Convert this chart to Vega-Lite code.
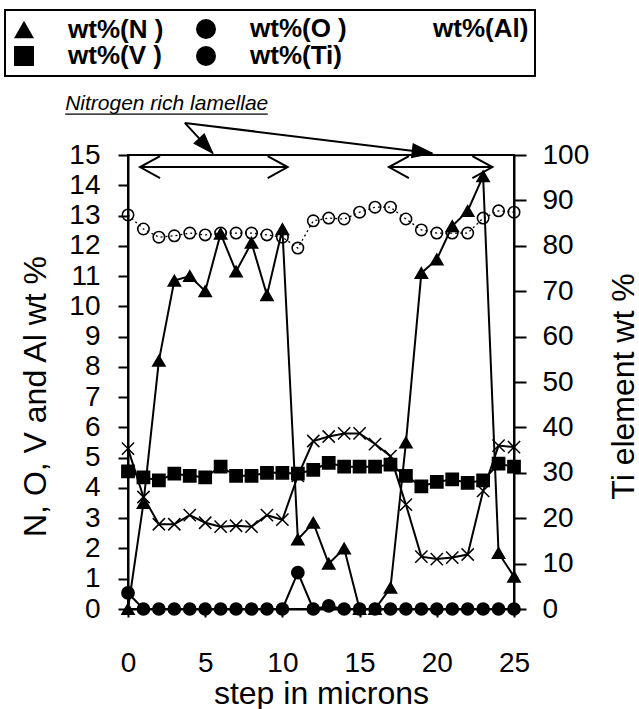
{
  "$schema": "https://vega.github.io/schema/vega-lite/v6.json",
  "width": 386,
  "height": 454,
  "autosize": {"type": "none"},
  "padding": {"left": 128, "top": 155, "right": 125, "bottom": 100},
  "background": "white",
  "config": {
    "view": {"stroke": "black", "strokeWidth": 2},
    "font": "Liberation Sans",
    "axis": {
      "domainColor": "black", "domainWidth": 2, "tickColor": "black", "tickWidth": 2,
      "labelColor": "black", "titleColor": "black", "labelFont": "Liberation Sans", "titleFont": "Liberation Sans",
      "labelFontSize": 28, "titleFontSize": 32, "titleFontWeight": "normal", "grid": false, "labelFlush": false
    },
    "legend": {"strokeWidth": 2}
  },
  "datasets": {
    "wt": [
      {"step": 0, "series": "wt%(N )", "value": 0}, {"step": 1, "series": "wt%(N )", "value": 3.5}, {"step": 2, "series": "wt%(N )", "value": 8.2}, {"step": 3, "series": "wt%(N )", "value": 10.85}, {"step": 4, "series": "wt%(N )", "value": 11.0}, {"step": 5, "series": "wt%(N )", "value": 10.5}, {"step": 6, "series": "wt%(N )", "value": 12.4}, {"step": 7, "series": "wt%(N )", "value": 11.15}, {"step": 8, "series": "wt%(N )", "value": 12.1}, {"step": 9, "series": "wt%(N )", "value": 10.37}, {"step": 10, "series": "wt%(N )", "value": 12.55}, {"step": 11, "series": "wt%(N )", "value": 2.3}, {"step": 12, "series": "wt%(N )", "value": 2.85}, {"step": 13, "series": "wt%(N )", "value": 1.5}, {"step": 14, "series": "wt%(N )", "value": 2.0}, {"step": 15, "series": "wt%(N )", "value": 0}, {"step": 16, "series": "wt%(N )", "value": 0}, {"step": 17, "series": "wt%(N )", "value": 0.7}, {"step": 18, "series": "wt%(N )", "value": 5.5}, {"step": 19, "series": "wt%(N )", "value": 11.1}, {"step": 20, "series": "wt%(N )", "value": 11.55}, {"step": 21, "series": "wt%(N )", "value": 12.65}, {"step": 22, "series": "wt%(N )", "value": 13.15}, {"step": 23, "series": "wt%(N )", "value": 14.3}, {"step": 24, "series": "wt%(N )", "value": 1.85}, {"step": 25, "series": "wt%(N )", "value": 1.07},
      {"step": 0, "series": "wt%(O )", "value": 0.53}, {"step": 1, "series": "wt%(O )", "value": 0}, {"step": 2, "series": "wt%(O )", "value": 0}, {"step": 3, "series": "wt%(O )", "value": 0}, {"step": 4, "series": "wt%(O )", "value": 0}, {"step": 5, "series": "wt%(O )", "value": 0}, {"step": 6, "series": "wt%(O )", "value": 0}, {"step": 7, "series": "wt%(O )", "value": 0}, {"step": 8, "series": "wt%(O )", "value": 0}, {"step": 9, "series": "wt%(O )", "value": 0}, {"step": 10, "series": "wt%(O )", "value": 0}, {"step": 11, "series": "wt%(O )", "value": 1.2}, {"step": 12, "series": "wt%(O )", "value": 0}, {"step": 13, "series": "wt%(O )", "value": 0.1}, {"step": 14, "series": "wt%(O )", "value": 0}, {"step": 15, "series": "wt%(O )", "value": 0}, {"step": 16, "series": "wt%(O )", "value": 0}, {"step": 17, "series": "wt%(O )", "value": 0}, {"step": 18, "series": "wt%(O )", "value": 0}, {"step": 19, "series": "wt%(O )", "value": 0}, {"step": 20, "series": "wt%(O )", "value": 0}, {"step": 21, "series": "wt%(O )", "value": 0}, {"step": 22, "series": "wt%(O )", "value": 0}, {"step": 23, "series": "wt%(O )", "value": 0}, {"step": 24, "series": "wt%(O )", "value": 0}, {"step": 25, "series": "wt%(O )", "value": 0},
      {"step": 0, "series": "wt%(Al)", "value": 5.3}, {"step": 1, "series": "wt%(Al)", "value": 3.7}, {"step": 2, "series": "wt%(Al)", "value": 2.8}, {"step": 3, "series": "wt%(Al)", "value": 2.8}, {"step": 4, "series": "wt%(Al)", "value": 3.1}, {"step": 5, "series": "wt%(Al)", "value": 2.85}, {"step": 6, "series": "wt%(Al)", "value": 2.72}, {"step": 7, "series": "wt%(Al)", "value": 2.75}, {"step": 8, "series": "wt%(Al)", "value": 2.72}, {"step": 9, "series": "wt%(Al)", "value": 3.1}, {"step": 10, "series": "wt%(Al)", "value": 2.95}, {"step": 11, "series": "wt%(Al)", "value": 4.4}, {"step": 12, "series": "wt%(Al)", "value": 5.55}, {"step": 13, "series": "wt%(Al)", "value": 5.7}, {"step": 14, "series": "wt%(Al)", "value": 5.8}, {"step": 15, "series": "wt%(Al)", "value": 5.8}, {"step": 16, "series": "wt%(Al)", "value": 5.45}, {"step": 17, "series": "wt%(Al)", "value": 5.05}, {"step": 18, "series": "wt%(Al)", "value": 3.45}, {"step": 19, "series": "wt%(Al)", "value": 1.73}, {"step": 20, "series": "wt%(Al)", "value": 1.65}, {"step": 21, "series": "wt%(Al)", "value": 1.7}, {"step": 22, "series": "wt%(Al)", "value": 1.8}, {"step": 23, "series": "wt%(Al)", "value": 3.9}, {"step": 24, "series": "wt%(Al)", "value": 5.4}, {"step": 25, "series": "wt%(Al)", "value": 5.35},
      {"step": 0, "series": "wt%(V )", "value": 4.55}, {"step": 1, "series": "wt%(V )", "value": 4.35}, {"step": 2, "series": "wt%(V )", "value": 4.25}, {"step": 3, "series": "wt%(V )", "value": 4.47}, {"step": 4, "series": "wt%(V )", "value": 4.4}, {"step": 5, "series": "wt%(V )", "value": 4.35}, {"step": 6, "series": "wt%(V )", "value": 4.7}, {"step": 7, "series": "wt%(V )", "value": 4.4}, {"step": 8, "series": "wt%(V )", "value": 4.4}, {"step": 9, "series": "wt%(V )", "value": 4.5}, {"step": 10, "series": "wt%(V )", "value": 4.5}, {"step": 11, "series": "wt%(V )", "value": 4.47}, {"step": 12, "series": "wt%(V )", "value": 4.6}, {"step": 13, "series": "wt%(V )", "value": 4.83}, {"step": 14, "series": "wt%(V )", "value": 4.7}, {"step": 15, "series": "wt%(V )", "value": 4.7}, {"step": 16, "series": "wt%(V )", "value": 4.7}, {"step": 17, "series": "wt%(V )", "value": 4.77}, {"step": 18, "series": "wt%(V )", "value": 4.4}, {"step": 19, "series": "wt%(V )", "value": 4.05}, {"step": 20, "series": "wt%(V )", "value": 4.2}, {"step": 21, "series": "wt%(V )", "value": 4.28}, {"step": 22, "series": "wt%(V )", "value": 4.17}, {"step": 23, "series": "wt%(V )", "value": 4.25}, {"step": 24, "series": "wt%(V )", "value": 4.8}, {"step": 25, "series": "wt%(V )", "value": 4.7},
      {"step": 0, "series": "wt%(Ti)", "value": 86.8}, {"step": 1, "series": "wt%(Ti)", "value": 83.7}, {"step": 2, "series": "wt%(Ti)", "value": 81.9}, {"step": 3, "series": "wt%(Ti)", "value": 82.2}, {"step": 4, "series": "wt%(Ti)", "value": 82.8}, {"step": 5, "series": "wt%(Ti)", "value": 82.4}, {"step": 6, "series": "wt%(Ti)", "value": 82.8}, {"step": 7, "series": "wt%(Ti)", "value": 82.8}, {"step": 8, "series": "wt%(Ti)", "value": 82.8}, {"step": 9, "series": "wt%(Ti)", "value": 82.4}, {"step": 10, "series": "wt%(Ti)", "value": 81.9}, {"step": 11, "series": "wt%(Ti)", "value": 79.5}, {"step": 12, "series": "wt%(Ti)", "value": 85.5}, {"step": 13, "series": "wt%(Ti)", "value": 86.1}, {"step": 14, "series": "wt%(Ti)", "value": 85.9}, {"step": 15, "series": "wt%(Ti)", "value": 87.4}, {"step": 16, "series": "wt%(Ti)", "value": 88.5}, {"step": 17, "series": "wt%(Ti)", "value": 88.5}, {"step": 18, "series": "wt%(Ti)", "value": 85.9}, {"step": 19, "series": "wt%(Ti)", "value": 83.5}, {"step": 20, "series": "wt%(Ti)", "value": 82.8}, {"step": 21, "series": "wt%(Ti)", "value": 82.8}, {"step": 22, "series": "wt%(Ti)", "value": 82.8}, {"step": 23, "series": "wt%(Ti)", "value": 86.1}, {"step": 24, "series": "wt%(Ti)", "value": 87.7}, {"step": 25, "series": "wt%(Ti)", "value": 87.4}
    ],
    "segs": [
      {"step": 3.68, "y": 16.06, "step2": 5.49, "y2": 15.06},
      {"step": 3.68, "y": 16.06, "step2": 19.7, "y2": 15.06},
      {"step": 0.78, "y": 14.6, "step2": 10.34, "y2": 14.6},
      {"step": 16.9, "y": 14.6, "step2": 23.6, "y2": 14.6}
    ],
    "heads": [
      {"step": 5.49, "y": 15.06, "dir": 137},
      {"step": 19.7, "y": 15.06, "dir": 97}
    ],
    "chevrons": [
      {"step": 0.78, "y": 14.6, "dir": 0},
      {"step": 10.34, "y": 14.6, "dir": 180},
      {"step": 16.9, "y": 14.6, "dir": 0},
      {"step": 23.6, "y": 14.6, "dir": 180}
    ],
    "note": [
      {"step": -4.07, "y": 16.49, "step2": 9.05, "yu": 16.35, "text": "Nitrogen rich lamellae"}
    ]
  },
  "encoding": {
    "x": {"field": "step", "type": "quantitative", "scale": {"domain": [0, 25], "nice": false},
      "axis": {"values": [0, 5, 10, 15, 20, 25], "title": "step in microns", "tickSize": 8, "labelPadding": 54, "labelBaseline": "alphabetic", "titleBaseline": "alphabetic", "titleY": 94}}
  },
  "layer": [
    {
      "data": {"name": "wt"},
      "transform": [{"filter": "datum.series !== 'wt%(Ti)'"}],
      "mark": {"type": "line", "color": "black", "strokeWidth": 2},
      "encoding": {
        "y": {"field": "value", "type": "quantitative", "scale": {"domain": [0, 15], "nice": false},
          "axis": {"orient": "left", "values": [0,1,2,3,4,5,6,7,8,9,10,11,12,13,14,15], "title": "N, O, V and Al wt %", "tickSize": 10, "labelPadding": 18, "titleBaseline": "alphabetic", "titleX": -83, "titleY": 241}},
        "detail": {"field": "series"}
      }
    },
    {
      "data": {"name": "wt"},
      "transform": [{"filter": "datum.series !== 'wt%(Ti)'"}],
      "mark": {"type": "point", "filled": true, "fill": "black", "stroke": "black", "strokeWidth": 1.5, "opacity": 1, "size": 150},
      "encoding": {
        "y": {"field": "value", "type": "quantitative", "scale": {"domain": [0, 15], "nice": false}, "axis": null},
        "shape": {"field": "series", "type": "nominal",
          "scale": {"domain": ["wt%(N )", "wt%(O )", "wt%(Al)", "wt%(V )", "wt%(Ti)"], "range": ["triangle-up", "circle", "M-1,-1L1,1M-1,1L1,-1", "square", "circle"]},
          "legend": {
            "title": null, "orient": "none", "legendX": -123, "legendY": -145, "direction": "horizontal", "columns": 3,
            "columnPadding": 28, "rowPadding": -2, "padding": 6, "strokeColor": "black",
            "symbolSize": 400, "symbolStrokeWidth": 2, "symbolStrokeColor": "black", "symbolOpacity": 1,
            "labelOffset": 31, "labelFont": "Liberation Sans", "labelFontSize": 26, "labelFontWeight": "bold", "labelColor": "black", "labelLimit": 300,
            "encode": {
              "symbols": {
                "shape": {"value": {"expr": "datum.value === 'wt%(N )' ? 'M-1.1,0H3.5M1.2,-0.7L1.85,0.5L0.55,0.5Z' : datum.value === 'wt%(O )' ? 'M-1.1,0H3.5M0.65,0A0.55,0.55 0 1,0 1.75,0A0.55,0.55 0 1,0 0.65,0Z' : datum.value === 'wt%(Al)' ? 'M-1.1,0H3.5M0.8,-0.4L1.6,0.4M0.8,0.4L1.6,-0.4' : datum.value === 'wt%(V )' ? 'M-1.1,0H3.5M0.6,-0.6H1.8V0.6H0.6Z' : 'M-1.1,0H-0.8M-0.55,0H-0.25M0,0H0.3M0.6,0A0.5,0.5 0 1,0 1.6,0A0.5,0.5 0 1,0 0.6,0M1.9,0H2.1M2.4,0H2.6'"}},
                "fill": {"value": {"expr": "datum.value === 'wt%(Ti)' ? 'transparent' : 'black'"}},
                "stroke": {"value": "black"},
                "size": {"value": 400},
                "strokeWidth": {"value": {"expr": "datum.value === 'wt%(Ti)' ? 1.5 : 2"}},
                "opacity": {"value": 1}
              }
            }
          }
        }
      }
    },
    {
      "data": {"name": "segs"},
      "mark": {"type": "rule", "color": "black", "strokeWidth": 2},
      "encoding": {
        "y": {"field": "y", "type": "quantitative", "scale": {"domain": [0, 15], "nice": false}, "axis": null},
        "x2": {"field": "step2"},
        "y2": {"field": "y2"}
      }
    },
    {
      "data": {"name": "heads"},
      "mark": {"type": "point", "shape": "M0,0L0.7,2L-0.7,2Z", "size": 400, "filled": true, "fill": "black", "stroke": "black", "strokeWidth": 1, "opacity": 1},
      "encoding": {
        "y": {"field": "y", "type": "quantitative", "scale": {"domain": [0, 15], "nice": false}, "axis": null},
        "angle": {"field": "dir", "type": "quantitative", "scale": null}
      }
    },
    {
      "data": {"name": "chevrons"},
      "mark": {"type": "point", "shape": "M2,-1.1L0,0L2,1.1", "size": 400, "filled": false, "stroke": "black", "strokeWidth": 2, "opacity": 1},
      "encoding": {
        "y": {"field": "y", "type": "quantitative", "scale": {"domain": [0, 15], "nice": false}, "axis": null},
        "angle": {"field": "dir", "type": "quantitative", "scale": null}
      }
    },
    {
      "data": {"name": "note"},
      "mark": {"type": "text", "font": "Liberation Sans", "fontStyle": "italic", "fontSize": 21, "align": "left", "baseline": "alphabetic", "color": "black"},
      "encoding": {
        "y": {"field": "y", "type": "quantitative", "scale": {"domain": [0, 15], "nice": false}, "axis": null},
        "text": {"field": "text"}
      }
    },
    {
      "data": {"name": "note"},
      "mark": {"type": "rule", "color": "black", "strokeWidth": 1.2},
      "encoding": {
        "x2": {"field": "step2"},
        "y": {"field": "yu", "type": "quantitative", "scale": {"domain": [0, 15], "nice": false}, "axis": null}
      }
    },
    {
      "data": {"name": "wt"},
      "transform": [{"filter": "datum.series === 'wt%(Ti)'"}],
      "mark": {"type": "line", "color": "black", "strokeWidth": 1.3, "strokeDash": [2, 3]},
      "encoding": {
        "y": {"field": "value", "type": "quantitative", "scale": {"domain": [0, 100], "nice": false},
          "axis": {"orient": "right", "values": [0,10,20,30,40,50,60,70,80,90,100], "title": "Ti element wt %", "tickSize": 12, "labelPadding": 16, "titleAngle": 270, "titleBaseline": "alphabetic", "titleX": 119, "titleY": 231}}
      }
    },
    {
      "data": {"name": "wt"},
      "transform": [{"filter": "datum.series === 'wt%(Ti)'"}],
      "mark": {"type": "point", "shape": "circle", "filled": false, "stroke": "black", "strokeWidth": 1.6, "size": 130, "opacity": 1},
      "encoding": {
        "y": {"field": "value", "type": "quantitative", "scale": {"domain": [0, 100], "nice": false}, "axis": null}
      }
    }
  ],
  "resolve": {"scale": {"y": "independent"}}
}
